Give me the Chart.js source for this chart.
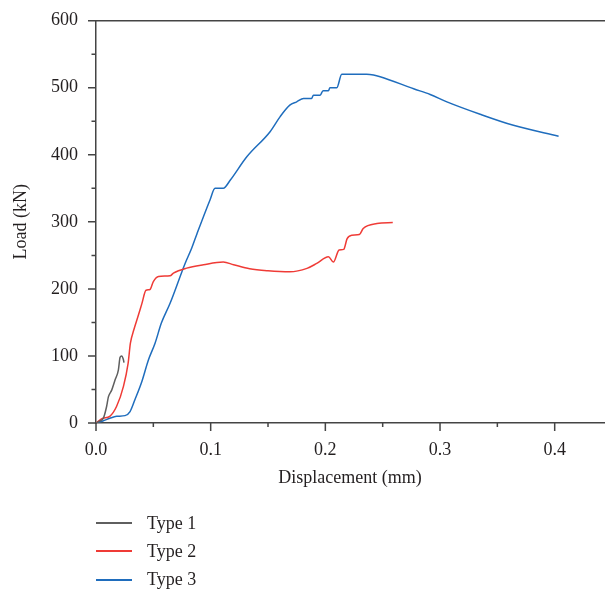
<!DOCTYPE html>
<html>
<head>
<meta charset="utf-8">
<script src="https://cdn.jsdelivr.net/npm/chart.js@4/dist/chart.umd.min.js"></script>
<style>
  body { margin: 0; background: #fff; }
  #wrap { position: relative; width: 605px; height: 590px; }
  #loadChart { position: absolute; left: 0; top: 0; }
  #legend { position: absolute; left: 96px; top: 509px; font-family: 'Liberation Serif', serif; font-size: 18px; color: #231f20; }
  #legend .row { display: flex; align-items: center; height: 28.3px; }
  #legend .swatch { display: inline-block; width: 36px; height: 2px; margin-right: 15px; }
</style>
</head>
<body>
<div id="wrap">
  <canvas id="loadChart" width="605" height="590"></canvas>
  <div id="legend"></div>
</div>
<script>
// Type 1
const type1X = [0, 0.0035, 0.0064, 0.0093, 0.0108, 0.0137, 0.0166, 0.0195, 0.021, 0.0224, 0.0238, 0.0244];
const type1Y = [0, 3, 7, 25, 39, 49, 64, 79, 98, 100, 95, 90];

// Type 2
const type2X = [0, 0.003, 0.006, 0.012, 0.018, 0.024, 0.028, 0.030, 0.033, 0.037, 0.040, 0.0436, 0.047, 0.050, 0.0545,
  0.0646, 0.0675, 0.079, 0.0937, 0.111, 0.12, 0.134, 0.15, 0.169, 0.184, 0.1925, 0.2027, 0.207, 0.212, 0.216,
  0.219, 0.223, 0.2297, 0.233, 0.245, 0.2588];
const type2Y = [0, 4, 7, 10, 25, 55, 89, 119, 139, 161, 178, 198, 199, 211, 218.5,
  219.5, 223.5, 231, 236, 240, 236, 230, 227, 225.5, 230.6, 238, 248, 240, 258, 259,
  275, 280, 281, 290, 297.5, 299];

// Type 3
const type3X = [0, 0.006, 0.012, 0.018, 0.0253, 0.0297, 0.034, 0.040, 0.0457, 0.0515, 0.057, 0.0646, 0.0777, 0.0835,
  0.088, 0.0995, 0.1038, 0.111, 0.117, 0.1315, 0.1518, 0.1606, 0.169, 0.175, 0.181, 0.188, 0.1896, 0.1955, 0.198,
  0.2027, 0.204, 0.21, 0.2143, 0.226, 0.236, 0.242, 0.2478, 0.277, 0.2914, 0.306, 0.335, 0.364, 0.4034];
const type3Y = [0, 3, 7, 10, 11, 17, 35, 62, 94, 119, 149, 178.5, 238, 261,
  282, 333, 350, 350, 362, 397, 434.5, 457, 474, 479, 484, 484, 489, 489, 495.6,
  495.6, 500, 500, 520, 520, 520, 519, 516.5, 498.5, 490, 479, 460.5, 444, 427.6];

const seriesNames = ['Type 1', 'Type 2', 'Type 3'];
const seriesColors = ['#5f5f5f', '#ef3b36', '#1f6dbd'];
const xTickValues = [0, 0.05, 0.1, 0.15, 0.2, 0.25, 0.3, 0.35, 0.4];

const toPoints = (xs, ys) => xs.map((x, i) => ({ x: x, y: ys[i] }));
const seriesData = [toPoints(type1X, type1Y), toPoints(type2X, type2Y), toPoints(type3X, type3Y)];

Chart.defaults.font.family = "'Liberation Serif', serif";
Chart.defaults.font.size = 18;
Chart.defaults.color = '#231f20';

const axisColor = '#444';
const isMajorX = v => Math.abs(v * 10 - Math.round(v * 10)) < 1e-6;

// ticks on the outside, and the top frame line
const tickMarks = {
  id: 'tickMarks',
  afterDraw(chart) {
    const { ctx, chartArea: a, scales: { x, y } } = chart;
    ctx.save();
    ctx.strokeStyle = axisColor;
    ctx.lineWidth = 1.5;
    ctx.beginPath();
    ctx.moveTo(a.left - 8, a.top);
    ctx.lineTo(chart.width, a.top);
    x.ticks.forEach(t => {
      const px = x.getPixelForValue(t.value);
      ctx.moveTo(px, a.bottom);
      ctx.lineTo(px, a.bottom + (isMajorX(t.value) ? 8 : 4));
    });
    y.ticks.forEach(t => {
      const py = y.getPixelForValue(t.value);
      ctx.moveTo(a.left, py);
      ctx.lineTo(a.left - (t.value % 100 === 0 ? 8 : 4.5), py);
    });
    ctx.stroke();
    ctx.restore();
  }
};

const chart = new Chart(document.getElementById('loadChart'), {
  type: 'line',
  data: {
    datasets: seriesData.map((d, i) => ({
      label: seriesNames[i],
      data: d,
      borderColor: seriesColors[i],
      backgroundColor: seriesColors[i],
      borderWidth: 1.5,
      pointRadius: 0,
      fill: false,
      cubicInterpolationMode: 'monotone'
    }))
  },
  options: {
    responsive: false,
    animation: false,
    layout: { padding: { top: 20.7, right: 1, left: 0, bottom: 100 } },
    plugins: { legend: { display: false }, tooltip: { enabled: false } },
    scales: {
      x: {
        type: 'linear',
        min: 0,
        max: 0.443,
        afterBuildTicks: scale => { scale.ticks = xTickValues.map(v => ({ value: v })); },
        ticks: {
          padding: 16,
          maxRotation: 0,
          autoSkip: false,
          callback: v => isMajorX(v) ? v.toFixed(1) : ''
        },
        grid: { display: false, drawTicks: false },
        border: { display: true, color: axisColor, width: 1.5 },
        title: { display: true, text: 'Displacement (mm)', padding: { top: 0, bottom: 1.2 } },
        afterFit: scale => { scale.height = 67; scale.paddingLeft = 0; scale.paddingRight = 0; }
      },
      y: {
        min: 0,
        max: 600,
        ticks: {
          stepSize: 50,
          padding: 18,
          callback: v => v % 100 === 0 ? v : ''
        },
        grid: { display: false, drawTicks: false },
        border: { display: true, color: axisColor, width: 1.5 },
        title: { display: true, text: 'Load (kN)', padding: { top: 10, bottom: 0 } },
        afterFit: scale => { scale.width = 96; scale.paddingTop = 0; scale.paddingBottom = 0; }
      }
    }
  },
  plugins: [tickMarks]
});

// Legend below the chart, one item per row
const legendBox = document.getElementById('legend');
chart.data.datasets.forEach(ds => {
  const row = document.createElement('div');
  row.className = 'row';
  const swatch = document.createElement('span');
  swatch.className = 'swatch';
  swatch.style.backgroundColor = ds.borderColor;
  const label = document.createElement('span');
  label.textContent = ds.label;
  row.appendChild(swatch);
  row.appendChild(label);
  legendBox.appendChild(row);
});
</script>
</body>
</html>
